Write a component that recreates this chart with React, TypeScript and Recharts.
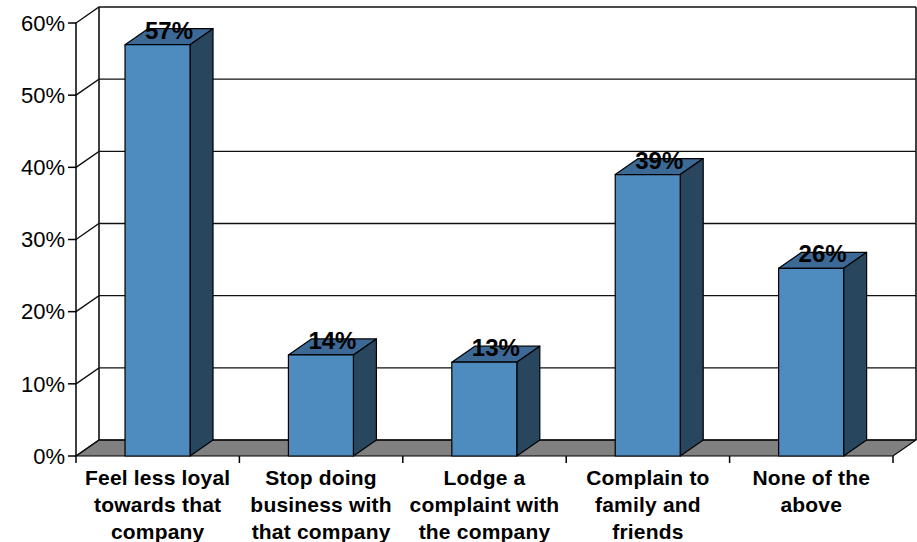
import { BarChart, Bar, XAxis, YAxis, CartesianGrid, LabelList } from "recharts"

const categories = [
  "Feel less loyal\ntowards that\ncompany",
  "Stop doing\nbusiness with\nthat company",
  "Lodge a\ncomplaint with\nthe company",
  "Complain to\nfamily and\nfriends",
  "None of the\nabove",
]
const shares = [57, 14, 13, 39, 26]
const yTicks = [0, 10, 20, 30, 40, 50, 60]

const data = categories.map((name, i) => ({ name, value: shares[i] }))

// depth offset of the fake 3d box
const DX = 23
const DY = -16
const FONT = "Arial, 'Liberation Sans', sans-serif"

function Column(props: any) {
  const { x, y, width, height } = props
  if (width == null || height == null) return null
  const r = x + width
  const b = y + height
  return (
    <g stroke="#000" strokeWidth={1.2} strokeLinejoin="round">
      <polygon
        points={`${x},${y} ${x + DX},${y + DY} ${r + DX},${y + DY} ${r},${y}`}
        fill="#3C6995"
      />
      <polygon
        points={`${r},${y} ${r + DX},${y + DY} ${r + DX},${b + DY} ${r},${b}`}
        fill="#29465F"
      />
      <rect x={x} y={y} width={width} height={height} fill="#4E8BBF" />
    </g>
  )
}

function GridLine(props: any) {
  const { x, y, width, height, x1, y1, x2, index } = props
  const bottom = y + height
  const right = x + width
  const n = categories.length
  return (
    <g>
      {index === 0 && (
        <g>
          <polygon
            points={`${x},${bottom} ${x + DX},${bottom + DY} ${right + DX},${bottom + DY} ${right},${bottom}`}
            fill="#808080"
            stroke="#000"
            strokeWidth={1.2}
          />
          <line x1={x + DX} y1={y + DY} x2={x + DX} y2={bottom + DY} stroke="#000" strokeWidth={1.5} />
          <line x1={right + DX} y1={y + DY} x2={right + DX} y2={bottom + DY} stroke="#000" strokeWidth={1.5} />
          {Array.from({ length: n + 1 }, (_, i) => {
            const tx = x + (width * i) / n
            return <line key={i} x1={tx} y1={bottom} x2={tx} y2={bottom + 7} stroke="#000" strokeWidth={1.5} />
          })}
        </g>
      )}
      <polyline
        points={`${x1},${y1} ${x1 + DX},${y1 + DY} ${x2 + DX},${y1 + DY}`}
        fill="none"
        stroke="#111"
        strokeWidth={1.4}
      />
    </g>
  )
}

function CategoryTick(props: any) {
  const { x, y, payload } = props
  const lines = String(payload.value).split("\n")
  return (
    <text
      x={x}
      y={y + 29}
      textAnchor="middle"
      fontFamily={FONT}
      fontSize={21}
      fontWeight="bold"
      letterSpacing={0.2}
      fill="#000"
    >
      {lines.map((line, i) => (
        <tspan key={i} x={x} dy={i === 0 ? 0 : 27}>
          {line}
        </tspan>
      ))}
    </text>
  )
}

function ValueLabel(props: any) {
  const { x, y, width, value } = props
  return (
    <text
      x={x + width / 2 + DX / 2}
      y={y - 6}
      textAnchor="middle"
      fontFamily={FONT}
      fontSize={24}
      fontWeight="bold"
      fill="#000"
    >
      {value}%
    </text>
  )
}

export default function App() {
  return (
    <div style={{ position: "absolute", left: 0, top: 0, width: 917, height: 542, background: "#fff" }}>
      <BarChart
        width={917}
        height={542}
        data={data}
        margin={{ top: 23, right: 24, left: 0, bottom: 0 }}
        barCategoryGap="30%"
      >
        <CartesianGrid vertical={false} horizontal={GridLine} />
        <XAxis
          dataKey="name"
          height={86}
          axisLine={false}
          tickLine={false}
          tickSize={0}
          tickMargin={0}
          interval={0}
          tick={CategoryTick}
        />
        <YAxis
          width={76}
          domain={[0, 60]}
          ticks={yTicks}
          tickFormatter={(v) => `${v}%`}
          axisLine={{ stroke: "#000", strokeWidth: 1.5 }}
          tickLine={{ stroke: "#000", strokeWidth: 1.5 }}
          tickSize={8}
          tickMargin={3}
          tick={{ fill: "#000", fontSize: 22, fontFamily: FONT }}
        />
        <Bar dataKey="value" shape={Column} isAnimationActive={false}>
          <LabelList dataKey="value" content={ValueLabel} />
        </Bar>
      </BarChart>
    </div>
  )
}
